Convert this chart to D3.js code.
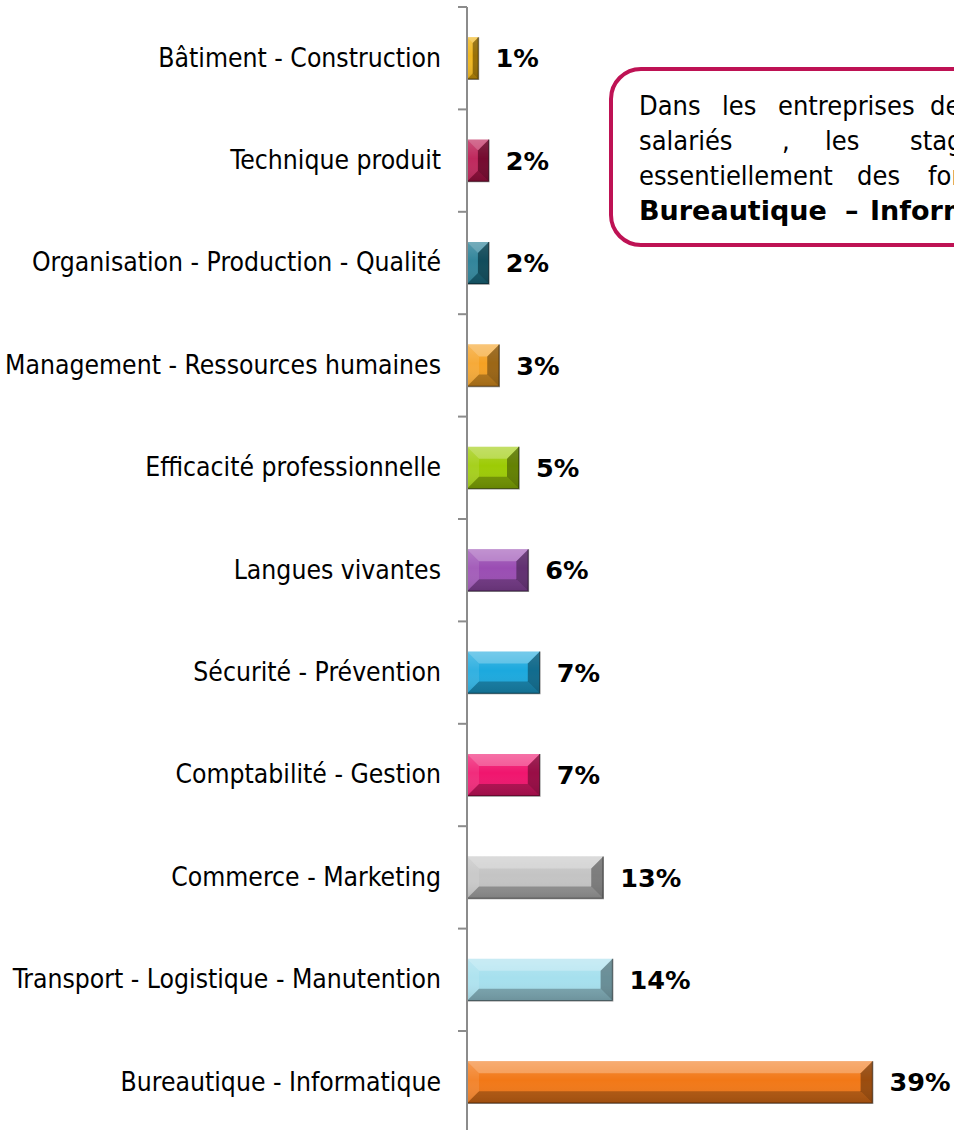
<!DOCTYPE html>
<html>
<head>
<meta charset="utf-8">
<script src="https://cdn.jsdelivr.net/npm/d3@7"></script>
<style>
  body { margin: 0; background: #fff; }
  svg { display: block; }
</style>
</head>
<body>
<script>
// categories, top to bottom
var categories = [
    "Bâtiment - Construction",
    "Technique produit",
    "Organisation - Production - Qualité",
    "Management - Ressources humaines",
    "Efficacité professionnelle",
    "Langues vivantes",
    "Sécurité - Prévention",
    "Comptabilité - Gestion",
    "Commerce - Marketing",
    "Transport - Logistique - Manutention",
    "Bureautique - Informatique"
];
// share of trainees (%)
var values = [1.1, 2.1, 2.1, 3.1, 5, 5.9, 7, 7, 13.1, 14, 39];
var valueLabels = ["1%", "2%", "2%", "3%", "5%", "6%", "7%", "7%", "13%", "14%", "39%"];
var barColors = ["#EFB00A", "#B8114B", "#1C7890", "#F5A123", "#9DCB05", "#9A4DB3",
                 "#1CA9DE", "#F0156E", "#C4C4C4", "#A6E0EE", "#F27817"];

// callout text, one entry per line
var noteLines = [
    ["Dans", "les", "entreprises", "de"],
    ["salariés", ",", "les", "stagiaires"],
    ["essentiellement", "des", "formations"],
    ["Bureautique", "–", "Informatique"]
];
var noteWordX = [[639, 722, 778, 930], [639, 782, 825, 910], [639, 857, 928], [639, 845, 870]];

//---------setup-----------//
var W = 954, H = 1130;
var axisX = 467;
var font = "'DejaVu Sans Condensed', 'DejaVu Sans', sans-serif";
var boldFont = "'DejaVu Sans', sans-serif";

var svg = d3.select("body").append("svg")
    .attr("width", W)
    .attr("height", H);

var defs = svg.append("defs");

var x = d3.scaleLinear()
    .domain([0, 40])
    .range([axisX, axisX + 10.4 * 40]);

var y = d3.scaleBand()
    .domain(categories)
    .range([7, 7 + 102.4 * categories.length])
    .paddingInner(0.59)
    .paddingOuter(0.295);

var step = y.step(), bw = y.bandwidth();

// face gradient, shared
var fg = defs.append("linearGradient").attr("id", "face")
    .attr("x1", 0).attr("y1", 0).attr("x2", 0).attr("y2", 1);
fg.append("stop").attr("offset", "0%").attr("stop-color", "#fff").attr("stop-opacity", 0.18);
fg.append("stop").attr("offset", "45%").attr("stop-color", "#fff").attr("stop-opacity", 0);
fg.append("stop").attr("offset", "100%").attr("stop-color", "#000").attr("stop-opacity", 0.12);

//-------bars (bevelled)-------//
var bars = svg.selectAll(".bar")
    .data(categories)
    .enter().append("g")
    .attr("class", "bar");

bars.each(function(c, i) {
    var g = d3.select(this);
    var x0 = x(0), x1 = x(values[i]);
    var y0 = y(c), y1 = y0 + bw;
    var w = x1 - x0;
    var b = Math.min(12, w / 2, bw / 2);

    g.append("rect")
        .attr("x", x0).attr("y", y0)
        .attr("width", w).attr("height", bw)
        .attr("fill", barColors[i]);
    g.append("rect")
        .attr("x", x0).attr("y", y0)
        .attr("width", w).attr("height", bw)
        .attr("fill", "url(#face)");

    var pts = function(a) { return a.map(function(p) { return p.join(","); }).join(" "); };
    // top bevel
    g.append("polygon")
        .attr("points", pts([[x0, y0], [x1, y0], [x1 - b, y0 + b], [x0 + b, y0 + b]]))
        .attr("fill", "#fff").attr("fill-opacity", 0.26);
    // left bevel
    g.append("polygon")
        .attr("points", pts([[x0, y0], [x0 + b, y0 + b], [x0 + b, y1 - b], [x0, y1]]))
        .attr("fill", "#fff").attr("fill-opacity", 0.1);
    // right bevel
    g.append("polygon")
        .attr("points", pts([[x1, y0], [x1, y1], [x1 - b, y1 - b], [x1 - b, y0 + b]]))
        .attr("fill", "#000").attr("fill-opacity", 0.36);
    // bottom bevel
    g.append("polygon")
        .attr("points", pts([[x0, y1], [x0 + b, y1 - b], [x1 - b, y1 - b], [x1, y1]]))
        .attr("fill", "#000").attr("fill-opacity", 0.26);
    // dark edge right/bottom
    g.append("path")
        .attr("d", "M" + x1 + "," + y0 + "V" + y1 + "H" + x0)
        .attr("fill", "none")
        .attr("stroke", "#000").attr("stroke-opacity", 0.45)
        .attr("stroke-width", 1.5);
});

// value labels
svg.selectAll(".val")
    .data(categories)
    .enter().append("text")
    .attr("class", "val")
    .attr("x", function(d, i) { return x(values[i]) + 17; })
    .attr("y", function(d) { return y(d) + bw / 2; })
    .attr("dy", "0.36em")
    .style("font-family", boldFont)
    .style("font-weight", "bold")
    .style("font-size", "25.5px")
    .style("fill", "#000")
    .text(function(d, i) { return valueLabels[i]; });

//-------axis-------//
var yAxis = d3.axisLeft(y).tickSize(0).tickPadding(26);
var ax = svg.append("g")
    .attr("transform", "translate(" + axisX + ",0)")
    .call(yAxis);
ax.select(".domain").remove();
ax.selectAll("text")
    .style("font-family", font)
    .style("font-size", "26.3px")
    .style("fill", "#000");

// axis line and boundary ticks
var bounds = categories.map(function(c) { return y(c) - (step - bw) / 2; });
bounds.push(bounds[bounds.length - 1] + step);
svg.append("line")
    .attr("x1", axisX).attr("x2", axisX)
    .attr("y1", bounds[0]).attr("y2", H)
    .attr("stroke", "#8c8c8c").attr("stroke-width", 2);
svg.selectAll(".btick")
    .data(bounds)
    .enter().append("line")
    .attr("class", "btick")
    .attr("x1", axisX - 9).attr("x2", axisX)
    .attr("y1", function(d) { return d; })
    .attr("y2", function(d) { return d; })
    .attr("stroke", "#8c8c8c").attr("stroke-width", 2);

//-------callout-------//
svg.append("rect")
    .attr("x", 611).attr("y", 69)
    .attr("width", 480).attr("height", 176)
    .attr("rx", 30).attr("ry", 30)
    .attr("fill", "#fff")
    .attr("stroke", "#BE1254")
    .attr("stroke-width", 4);

var note = svg.append("text")
    .style("font-size", "27px")
    .style("fill", "#000");
noteLines.forEach(function(words, li) {
    words.forEach(function(wd, wi) {
        note.append("tspan")
            .attr("x", noteWordX[li][wi])
            .attr("y", 115 + li * 35)
            .style("font-family", li === 3 ? boldFont : font)
            .style("font-weight", li === 3 ? "bold" : "normal")
            .text(wd);
    });
});
</script>
</body>
</html>
